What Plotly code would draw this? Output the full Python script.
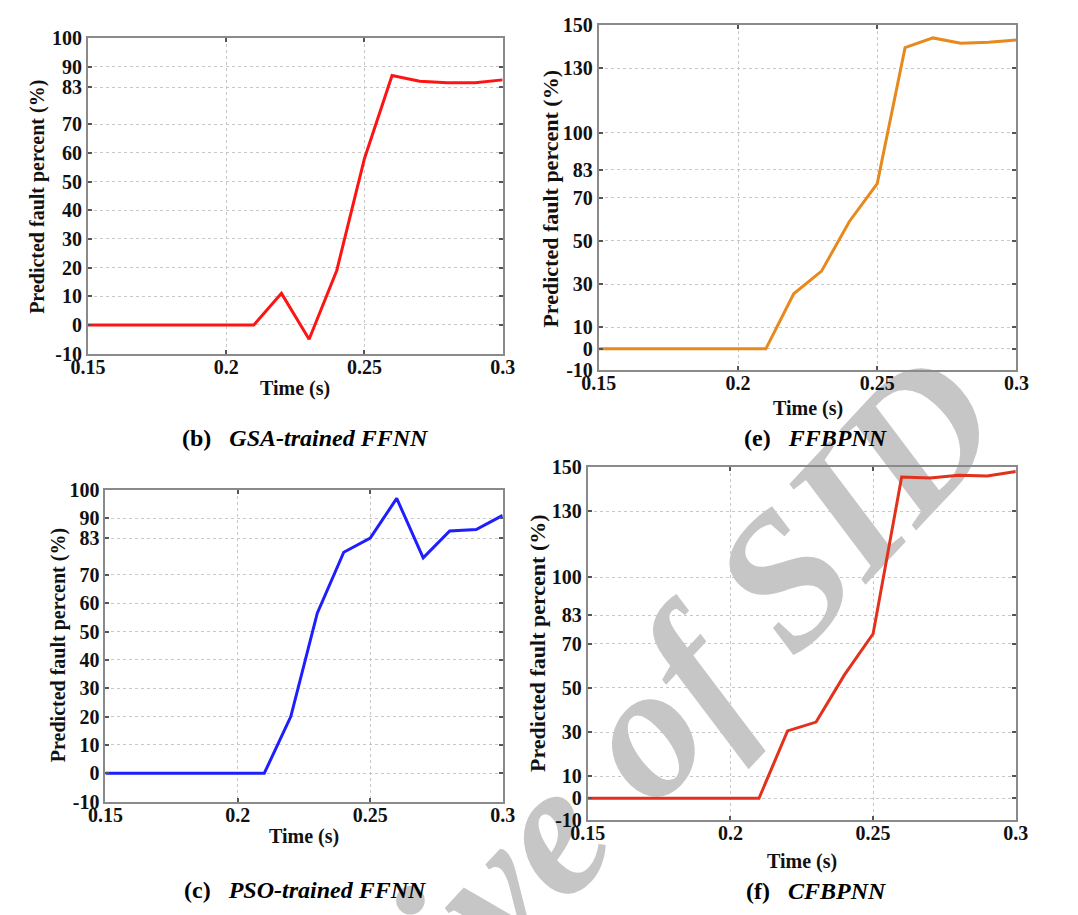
import plotly.graph_objects as go

W, H = 1078, 915

# ---- data -------------------------------------------------------------
time_s = [0.15, 0.16, 0.17, 0.18, 0.19, 0.20, 0.21, 0.22,
          0.23, 0.24, 0.25, 0.26, 0.27, 0.28, 0.29, 0.30]

gsa_ffnn = [0, 0, 0, 0, 0, 0, 0, 11, -5, 19, 58, 87, 85, 84.5, 84.5, 85.5]
ffbpnn = [0, 0, 0, 0, 0, 0, 0, 25.5, 36, 59, 76.5, 139.5, 144, 141.5, 142, 143]
pso_ffnn = [0, 0, 0, 0, 0, 0, 0, 20, 56.5, 78, 83, 97, 76, 85.5, 86, 91]
cfbpnn = [0, 0, 0, 0, 0, 0, 0, 30.5, 34.5, 56, 74.5, 145.5, 145, 146.3, 146, 148]

x_ticks = [0.15, 0.2, 0.25, 0.3]
x_tick_text = ["0.15", "0.2", "0.25", "0.3"]
y_ticks_small = [-10, 0, 10, 20, 30, 40, 50, 60, 70, 83, 90, 100]
y_ticks_large = [-10, 0, 10, 30, 50, 70, 83, 100, 130, 150]

captions = ["(b)", "(e)", "(c)", "(f)"]
model_names = ["GSA-trained FFNN", "FFBPNN", "PSO-trained FFNN", "CFBPNN"]
x_title = "Time (s)"
y_title = "Predicted fault percent (%)"
watermark = "Archive of SID"

# ---- layout of the four panels (pixel boxes: left, right, top, bottom) --
panels = [
    dict(y=gsa_ffnn, ticks=y_ticks_small, top=100, color="#ff1414",
         box=(72, 499, 28, 351), ytitle_xy=(20, 190), ytitle_size=20,
         xtitle_y=387, cap_xy=(296, 438)),
    dict(y=ffbpnn, ticks=y_ticks_large, top=150, color="#e8891e",
         box=(598, 1028, 14.3, 368.3), ytitle_xy=(548, 192), ytitle_size=22,
         xtitle_y=407, cap_xy=(822, 438)),
    dict(y=pso_ffnn, ticks=y_ticks_small, top=100, color="#1e1eff",
         box=(90, 499, 490.7, 810), ytitle_xy=(42, 650), ytitle_size=20,
         xtitle_y=846, cap_xy=(296, 901)),
    dict(y=cfbpnn, ticks=y_ticks_large, top=150, color="#e2311d",
         box=(586.7, 1027.3, 467.3, 829.3), ytitle_xy=(535, 648), ytitle_size=22,
         xtitle_y=871, cap_xy=(822, 902)),
]

FONT = "Liberation Serif"


def px(xp):
    return xp / W


def py(yp):
    return 1 - yp / H


fig = go.Figure()
annotations = []

for i, p in enumerate(panels):
    n = i + 1
    sfx = "" if n == 1 else str(n)
    left, right, top, bottom = p["box"]

    fig.add_trace(go.Scatter(
        x=time_s, y=p["y"], mode="lines",
        line=dict(color=p["color"], width=3),
        xaxis="x" + sfx, yaxis="y" + sfx, showlegend=False,
    ))

    common = dict(
        showline=True, linecolor="#8a8a8a", linewidth=2, mirror="allticks",
        ticks="inside", ticklen=4, tickwidth=2, tickcolor="#555555",
        showgrid=True, gridcolor="#c8c8c8", gridwidth=1, griddash="dot",
        zeroline=False,
        tickfont=dict(family=FONT, size=20, color="#111111", weight="bold"),
    )
    fig.update_layout({
        "xaxis" + sfx: dict(
            domain=[px(left), px(right)], anchor="y" + sfx,
            range=[0.15, 0.3], tickmode="array", tickvals=x_ticks,
            ticktext=x_tick_text, ticklabelstandoff=-6, **common),
        "yaxis" + sfx: dict(
            domain=[py(bottom), py(top)], anchor="x" + sfx,
            range=[-10, p["top"]], tickmode="array", tickvals=p["ticks"],
            ticktext=[str(t) for t in p["ticks"]], **common),
    })

    # axis titles
    annotations.append(dict(
        text=x_title, xref="paper", yref="paper",
        x=px((left + right) / 2), y=py(p["xtitle_y"]),
        xanchor="center", yanchor="middle", showarrow=False,
        font=dict(family=FONT, size=20, color="#111111", weight="bold")))
    annotations.append(dict(
        text=y_title, xref="paper", yref="paper", textangle=-90,
        x=px(p["ytitle_xy"][0]), y=py(p["ytitle_xy"][1]),
        xanchor="center", yanchor="middle", showarrow=False,
        font=dict(family=FONT, size=p["ytitle_size"], color="#111111",
                  weight="bold")))
    # panel caption
    annotations.append(dict(
        text=captions[i] + "&nbsp;&nbsp;&nbsp;<i>" + model_names[i] + "</i>",
        xref="paper", yref="paper",
        x=px(p["cap_xy"][0]), y=py(p["cap_xy"][1]),
        xanchor="center", yanchor="middle", showarrow=False,
        font=dict(family=FONT, size=24, color="#000000", weight="bold")))

# faint diagonal watermark behind everything
fig.add_shape(
    type="rect", xref="paper", yref="paper", layer="below",
    x0=px(543), x1=px(543), y0=py(812), y1=py(812),
    line=dict(width=0), fillcolor="rgba(0,0,0,0)",
    label=dict(text=watermark, textangle=-47, textposition="middle center",
               font=dict(family=FONT, size=190, color="#c6c6c6",
                         weight="bold", style="italic")),
)

fig.update_layout(
    width=W, height=H, margin=dict(l=0, r=0, t=0, b=0),
    paper_bgcolor="white", plot_bgcolor="rgba(0,0,0,0)",
    annotations=annotations, showlegend=False,
)

fig.write_html("out.html")
